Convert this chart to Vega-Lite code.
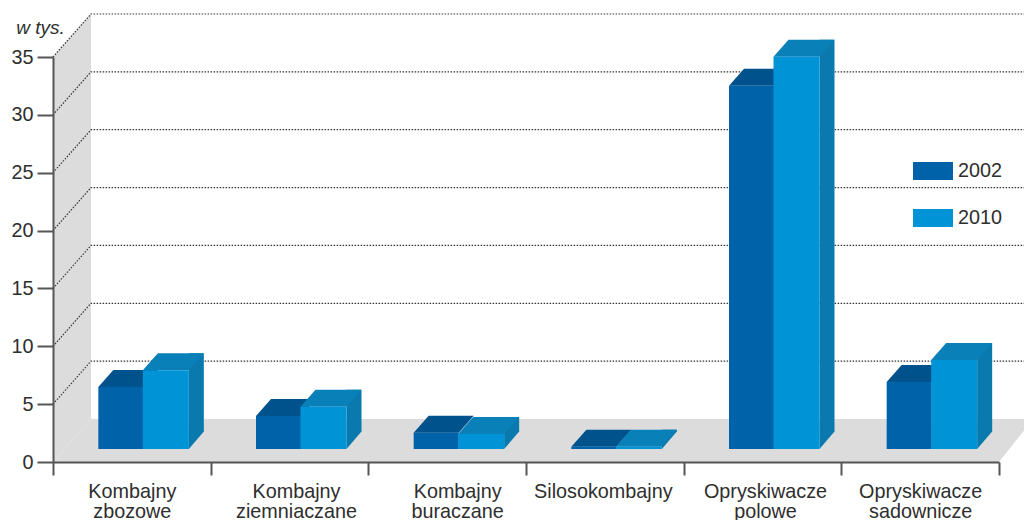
{
"$schema":"https://vega.github.io/schema/vega-lite/v6.json",
"autosize":{"type":"none"},
"padding":{"left":53,"top":57,"right":25,"bottom":58},
"width":946,"height":405,
"background":"white",
"config":{"view":{"stroke":null},"font":"Liberation Sans"},
"datasets":{"bars":[
{"kategoria":"Kombajny zbozowe","rok":"2002","wartosc":5.35},
{"kategoria":"Kombajny zbozowe","rok":"2010","wartosc":6.8},
{"kategoria":"Kombajny ziemniaczane","rok":"2002","wartosc":2.85},
{"kategoria":"Kombajny ziemniaczane","rok":"2010","wartosc":3.65},
{"kategoria":"Kombajny buraczane","rok":"2002","wartosc":1.4},
{"kategoria":"Kombajny buraczane","rok":"2010","wartosc":1.3},
{"kategoria":"Silosokombajny","rok":"2002","wartosc":0.2},
{"kategoria":"Silosokombajny","rok":"2010","wartosc":0.2},
{"kategoria":"Opryskiwacze polowe","rok":"2002","wartosc":31.4},
{"kategoria":"Opryskiwacze polowe","rok":"2010","wartosc":33.9},
{"kategoria":"Opryskiwacze sadownicze","rok":"2002","wartosc":5.8},
{"kategoria":"Opryskiwacze sadownicze","rok":"2010","wartosc":7.7}
]},
"data":{"name":"bars"},
"encoding":{
"x":{"field":"kategoria","type":"nominal","title":null,
"scale":{"type":"band","paddingInner":0,"paddingOuter":0,"domain":["Kombajny zbozowe","Kombajny ziemniaczane","Kombajny buraczane","Silosokombajny","Opryskiwacze polowe","Opryskiwacze sadownicze"]},
"axis":{"zindex":1,"labelAngle":0,"labelExpr":"split(datum.label,' ')","labelFontSize":19.8,"labelColor":"#2e2e2e","labelLineHeight":20,"labelPadding":6,"labelBaseline":"top","tickBand":"extent","tickSize":13,"tickWidth":2,"tickColor":"#555555","domainColor":"#555555","domainWidth":2,"labelOverlap":false,"labelBound":false,"labelFlush":false,
"labelOffset":{"condition":[{"test":"datum.value=='Kombajny ziemniaczane'","value":6.5},{"test":"datum.value=='Kombajny buraczane'","value":10},{"test":"datum.value=='Silosokombajny'","value":-2},{"test":"datum.value=='Opryskiwacze polowe'","value":2.5}],"value":0}}},
"y":{"field":"wartosc","type":"quantitative","title":"w tys.",
"scale":{"domain":[0,35],"nice":false},
"axis":{"zindex":1,"values":[0,5,10,15,20,25,30,35],"grid":false,"labelFontSize":19.8,"labelColor":"#2e2e2e","labelPadding":4,"tickSize":16,"tickWidth":2,"tickColor":"#555555","domainColor":"#555555","domainWidth":2,"titleAngle":0,"titleFontStyle":"italic","titleFontWeight":"normal","titleFontSize":19,"titleColor":"#2e2e2e","titleX":-13,"titleY":-24,"titleAlign":"center","titleBaseline":"alphabetic"}}
},
"layer":[
{"data":{"values":[{"tick":0}]},
"mark":{"type":"point","filled":true,"opacity":1,"size":4,"color":"#dcdcdc","xOffset":-78.83,"shape":"M0,0 L38,-43 L38,-448 L0,-405 Z"},
"encoding":{"x":{"datum":"Kombajny zbozowe"},"y":{"field":"tick","type":"quantitative"}}},
{"data":{"values":[{"tick":0}]},
"mark":{"type":"point","filled":true,"opacity":1,"size":4,"color":"#dcdcdc","xOffset":-78.83,"shape":"M0,0 L38,-43 L980,-43 L946,0 Z"},
"encoding":{"x":{"datum":"Kombajny zbozowe"},"y":{"field":"tick","type":"quantitative"}}},
{"data":{"values":[{"tick":5},{"tick":10},{"tick":15},{"tick":20},{"tick":25},{"tick":30},{"tick":35}]},
"mark":{"type":"point","filled":false,"opacity":1,"size":4,"stroke":"#333333","strokeWidth":1.2,"strokeDash":[1.5,1.5],"xOffset":-78.83,"shape":"M0,0 L38,-43 L980,-43"},
"encoding":{"x":{"datum":"Kombajny zbozowe"},"y":{"field":"tick","type":"quantitative"}}},
{"transform":[{"filter":"datum.rok=='2002'"}],
"mark":{"type":"point","filled":true,"opacity":1,"size":4,"color":"#00528c","xOffset":-11,"yOffset":-13,"shape":"M-22.5,0 L22.5,0 L37.5,-17 L-7.5,-17 Z"}},
{"transform":[{"filter":"datum.rok=='2002'"}],
"mark":{"type":"bar","width":45,"xOffset":-11,"yOffset":-13,"y2Offset":-13},
"encoding":{"color":{"field":"rok","type":"nominal","scale":{"domain":["2002","2010"],"range":["#0063a9","#0093d6"]},
"legend":{"title":null,"orient":"none","legendX":860,"legendY":94,"padding":0,"symbolType":"M-1,-0.45 H1 V0.45 H-1 Z","symbolSize":1600,"symbolStrokeWidth":0,"symbolOpacity":1,"rowPadding":17,"labelOffset":5,"labelFontSize":19.8,"labelColor":"#2e2e2e"}}}},
{"transform":[{"filter":"datum.rok=='2010'"}],
"mark":{"type":"bar","width":15,"color":"#0a79ae","xOffset":64.5,"yOffset":-30,"y2Offset":-13}},
{"transform":[{"filter":"datum.rok=='2010'"}],
"mark":{"type":"point","filled":true,"opacity":1,"size":4,"color":"#0a79ae","xOffset":57,"yOffset":-13,"shape":"M0,0 L15,-17.5 L0,-17.5 Z"},
"encoding":{"y":{"datum":0}}},
{"transform":[{"filter":"datum.rok=='2010'"}],
"mark":{"type":"point","filled":true,"opacity":1,"size":4,"color":"#0a80b8","xOffset":34,"yOffset":-13,"shape":"M-23,0 L23,0 L38,-17 L-8,-17 Z"}},
{"transform":[{"filter":"datum.rok=='2010'"}],
"mark":{"type":"bar","width":46,"xOffset":34,"yOffset":-13,"y2Offset":-13},
"encoding":{"color":{"field":"rok","type":"nominal","scale":{"domain":["2002","2010"],"range":["#0063a9","#0093d6"]}}}}
]
}
